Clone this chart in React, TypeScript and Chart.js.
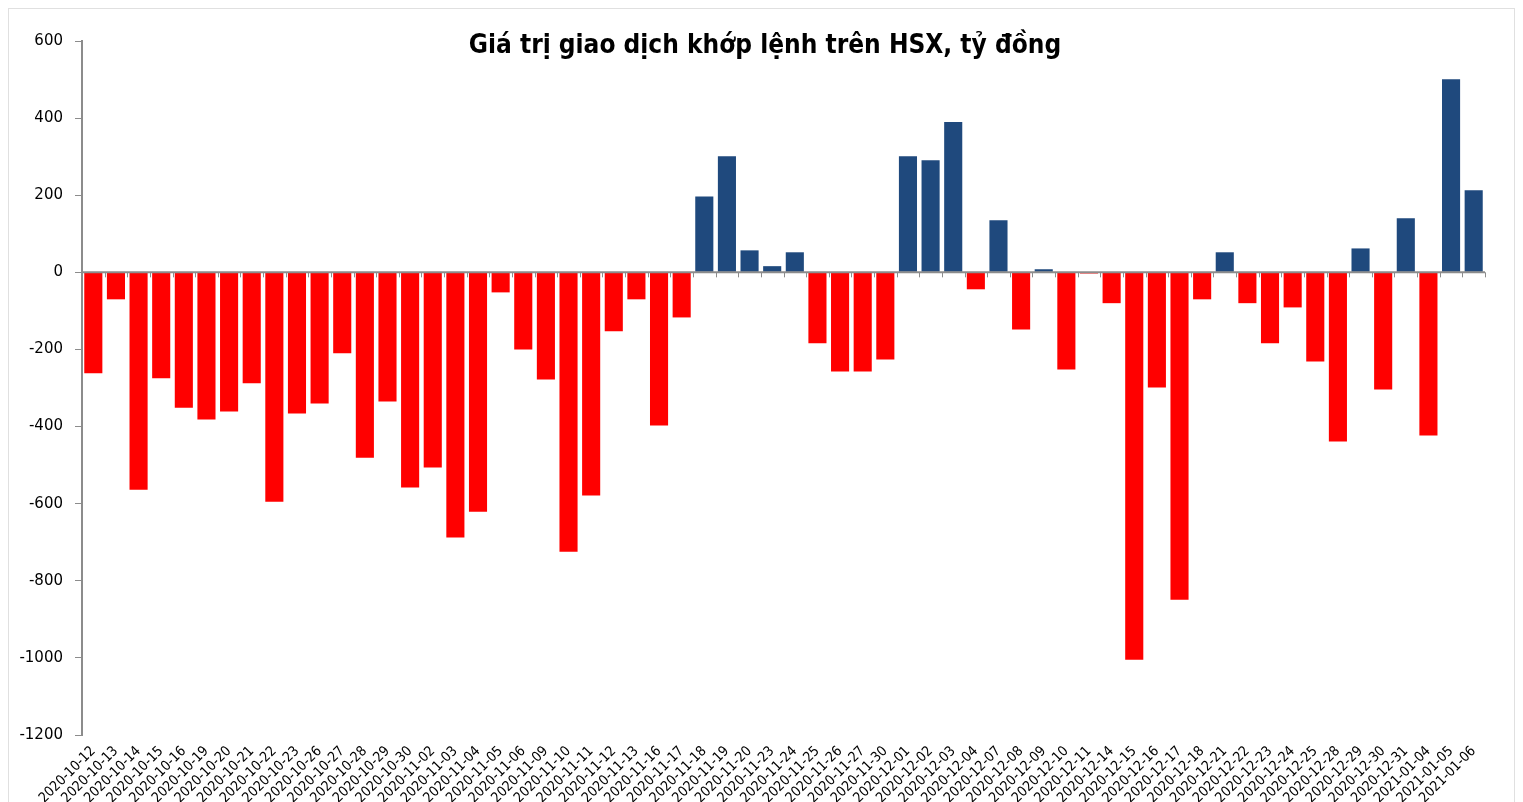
import React, { useEffect, useRef } from "react";
import { Chart, registerables } from "chart.js";

Chart.register(...registerables);

const TITLE = "Giá trị giao dịch khớp lệnh trên HSX, tỷ đồng";

const categories: string[] = [
  "2020-10-12", "2020-10-13", "2020-10-14", "2020-10-15", "2020-10-16",
  "2020-10-19", "2020-10-20", "2020-10-21", "2020-10-22", "2020-10-23",
  "2020-10-26", "2020-10-27", "2020-10-28", "2020-10-29", "2020-10-30",
  "2020-11-02", "2020-11-03", "2020-11-04", "2020-11-05", "2020-11-06",
  "2020-11-09", "2020-11-10", "2020-11-11", "2020-11-12", "2020-11-13",
  "2020-11-16", "2020-11-17", "2020-11-18", "2020-11-19", "2020-11-20",
  "2020-11-23", "2020-11-24", "2020-11-25", "2020-11-26", "2020-11-27",
  "2020-11-30", "2020-12-01", "2020-12-02", "2020-12-03", "2020-12-04",
  "2020-12-07", "2020-12-08", "2020-12-09", "2020-12-10", "2020-12-11",
  "2020-12-14", "2020-12-15", "2020-12-16", "2020-12-17", "2020-12-18",
  "2020-12-21", "2020-12-22", "2020-12-23", "2020-12-24", "2020-12-25",
  "2020-12-28", "2020-12-29", "2020-12-30", "2020-12-31", "2021-01-04",
  "2021-01-05", "2021-01-06",
];

const values: number[] = [
  -262, -70, -564, -275, -351,
  -382, -361, -288, -595, -366,
  -340, -210, -481, -335, -558,
  -506, -688, -621, -52, -200,
  -278, -725, -579, -153, -70,
  -397, -117, 197, 301, 57,
  16, 52, -184, -257, -257,
  -226, 301, 291, 390, -44,
  135, -148, 8, -252, -3,
  -80, -1005, -299, -849, -70,
  52, -80, -184, -91, -231,
  -439, 62, -304, 140, -423,
  501, 213,
];

const yMin = -1200;
const yMax = 600;
const yStep = 200;

const POS_COLOR = "#1F497D";
const NEG_COLOR = "#FF0000";
const AXIS_COLOR = "#8C8C8C";

const overlayPlugin = {
  id: "overlay",
  afterDatasetsDraw(chart: any) {
    const { ctx, chartArea, scales } = chart;
    const y0 = scales.y.getPixelForValue(0);
    const n = categories.length;
    const w = (chartArea.right - chartArea.left) / n;
    ctx.save();
    ctx.strokeStyle = AXIS_COLOR;
    ctx.lineWidth = 2;
    ctx.beginPath();
    ctx.moveTo(chartArea.left, y0);
    ctx.lineTo(chartArea.right, y0);
    ctx.stroke();
    ctx.lineWidth = 1;
    ctx.beginPath();
    for (let i = 0; i <= n; i++) {
      const x = Math.round(chartArea.left + i * w) + 0.5;
      ctx.moveTo(x, y0);
      ctx.lineTo(x, y0 + 5);
    }
    ctx.stroke();
    // title
    ctx.fillStyle = "#000";
    ctx.font = "bold 26px 'DejaVu Sans Condensed', 'DejaVu Sans', sans-serif";
    ctx.textAlign = "center";
    ctx.textBaseline = "middle";
    ctx.fillText(TITLE, 756, 37);
    ctx.restore();
  },
};

export default function App() {
  const ref = useRef<HTMLCanvasElement | null>(null);
  useEffect(() => {
    document.body.style.overflow = "hidden";
    if (!ref.current) return;
    const chart = new Chart(ref.current, {
      type: "bar",
      data: {
        labels: categories,
        datasets: [
          {
            data: values,
            backgroundColor: values.map((v) => (v >= 0 ? POS_COLOR : NEG_COLOR)),
            borderWidth: 0,
            categoryPercentage: 1,
            barPercentage: 0.8,
          },
        ],
      },
      options: {
        animation: false,
        responsive: true,
        maintainAspectRatio: false,
        layout: { padding: { top: 32, right: 29, left: 0, bottom: 0 } },
        plugins: {
          legend: { display: false },
          title: { display: false },
          tooltip: { enabled: false },
        },
        scales: {
          x: {
            grid: { display: false },
            border: { display: false },
            ticks: {
              autoSkip: false,
              minRotation: 45,
              maxRotation: 45,
              padding: 0,
              color: "#000",
              font: { family: "'DejaVu Sans Condensed', 'DejaVu Sans', sans-serif", size: 14 },
            },
            afterFit(scale: any) {
              scale.height = 72;
            },
          },
          y: {
            min: yMin,
            max: yMax,
            ticks: {
              stepSize: yStep,
              padding: 12,
              color: "#000",
              font: { family: "'DejaVu Sans', sans-serif", size: 15 },
              callback: (v: any) => String(v),
            },
            grid: {
              drawOnChartArea: false,
              drawTicks: true,
              tickLength: 7,
              color: AXIS_COLOR,
            },
            border: { display: true, color: AXIS_COLOR, width: 2 },
            afterFit(scale: any) {
              scale.width = 73;
            },
          },
        },
      },
      plugins: [overlayPlugin],
    });
    return () => chart.destroy();
  }, []);

  return (
    <div
      style={{
        position: "relative",
        width: 1507,
        height: 800,
        border: "1px solid #E0E0E0",
        boxSizing: "border-box",
        background: "#fff",
      }}
    >
      <canvas ref={ref} />
    </div>
  );
}
